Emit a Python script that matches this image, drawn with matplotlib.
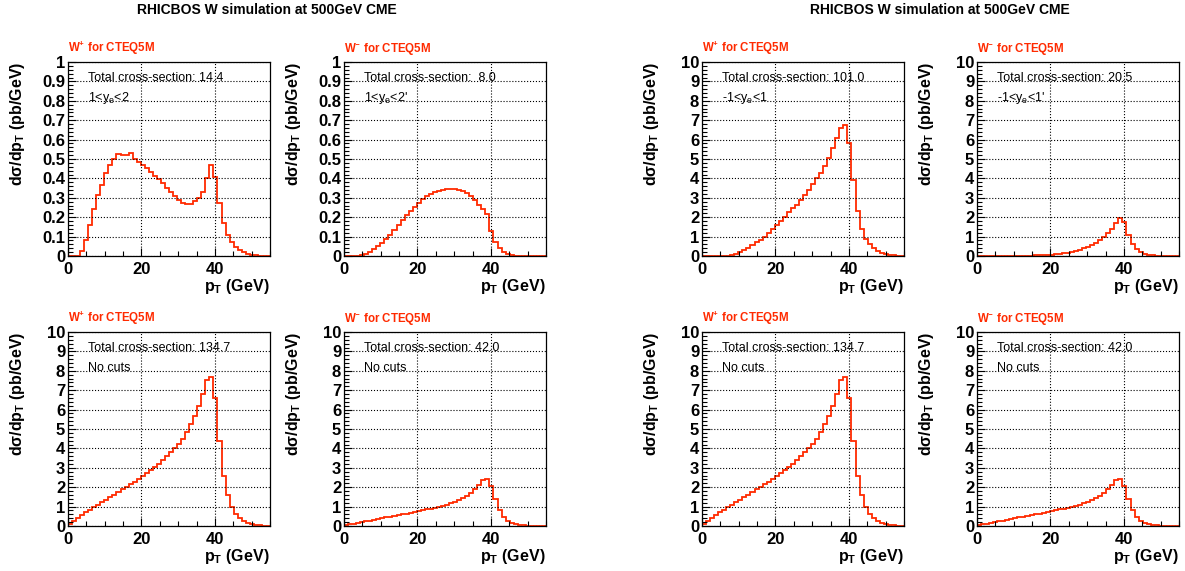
import numpy as np
import matplotlib
matplotlib.use("Agg")
import matplotlib.pyplot as plt
from matplotlib.ticker import MultipleLocator, FuncFormatter

plt.rcParams['font.family'] = ['Liberation Sans', 'DejaVu Sans']
plt.rcParams['mathtext.default'] = 'regular'

# 50 bins of 1.1 GeV between 0 and 55 GeV
edges = np.linspace(0, 55, 51)

# W+ , 1<y_e<2
wp_fwd = [0, 0, 0, 0.025, 0.08, 0.16, 0.24, 0.315, 0.365, 0.43,
          0.47, 0.50, 0.525, 0.52, 0.52, 0.53, 0.50, 0.485, 0.47, 0.455,
          0.435, 0.41, 0.395, 0.375, 0.35, 0.33, 0.31, 0.29, 0.275, 0.27,
          0.27, 0.285, 0.30, 0.33, 0.40, 0.47, 0.405, 0.275, 0.17, 0.11,
          0.07, 0.045, 0.03, 0.02, 0.012, 0.007, 0.003, 0.002, 0.001, 0]
# W- , 1<y_e<2
wm_fwd = [0, 0, 0, 0, 0.005, 0.012, 0.022, 0.035, 0.05, 0.068,
          0.09, 0.11, 0.135, 0.16, 0.185, 0.21, 0.23, 0.255, 0.275, 0.295,
          0.31, 0.32, 0.33, 0.335, 0.34, 0.345, 0.345, 0.345, 0.34, 0.335,
          0.325, 0.31, 0.29, 0.265, 0.24, 0.215, 0.13, 0.07, 0.04, 0.02,
          0.01, 0.005, 0.002, 0, 0, 0, 0, 0, 0, 0]
# W+ , -1<y_e<1
wp_mid = [0, 0, 0, 0, 0, 0, 0.01, 0.05, 0.12, 0.2,
          0.3, 0.42, 0.55, 0.7, 0.85, 1.0, 1.2, 1.4, 1.6, 1.8,
          2.0, 2.25, 2.45, 2.65, 2.9, 3.15, 3.4, 3.7, 4.0, 4.3,
          4.65, 5.05, 5.55, 6.1, 6.6, 6.75, 5.8, 3.9, 2.3, 1.4,
          0.9, 0.6, 0.4, 0.25, 0.15, 0.1, 0.05, 0.03, 0.01, 0]
# W- , -1<y_e<1
wm_mid = [0, 0, 0, 0, 0, 0, 0, 0, 0, 0,
          0, 0, 0.01, 0.02, 0.03, 0.04, 0.05, 0.06, 0.07, 0.085,
          0.1, 0.13, 0.17, 0.22, 0.27, 0.33, 0.4, 0.48, 0.57, 0.68,
          0.82, 0.98, 1.17, 1.4, 1.72, 1.95, 1.75, 1.1, 0.6, 0.35,
          0.2, 0.12, 0.07, 0.04, 0.02, 0.01, 0, 0, 0, 0]
# W+ , no cuts
wp_all = [0.1, 0.25, 0.4, 0.55, 0.7, 0.85, 1.0, 1.1, 1.25, 1.35,
          1.5, 1.6, 1.75, 1.9, 2.0, 2.15, 2.25, 2.4, 2.6, 2.75,
          2.9, 3.05, 3.2, 3.4, 3.6, 3.8, 4.0, 4.25, 4.5, 4.85,
          5.25, 5.65, 6.2, 6.8, 7.55, 7.7, 6.6, 4.4, 2.6, 1.6,
          1.0, 0.6, 0.4, 0.25, 0.17, 0.1, 0.07, 0.04, 0.02, 0.01]
# W- , no cuts
wm_all = [0.03, 0.08, 0.12, 0.16, 0.2, 0.24, 0.28, 0.32, 0.36, 0.4,
          0.44, 0.48, 0.52, 0.56, 0.6, 0.64, 0.68, 0.72, 0.77, 0.81,
          0.86, 0.9, 0.95, 1.0, 1.05, 1.1, 1.17, 1.25, 1.33, 1.42,
          1.55, 1.7, 1.9, 2.1, 2.35, 2.4, 2.05, 1.4, 0.8, 0.45,
          0.28, 0.16, 0.1, 0.06, 0.04, 0.02, 0.01, 0.005, 0, 0]

titles = ["W$^{+}$ for CTEQ5M", "W$^{-}$ for CTEQ5M"]
red = '#ff2a00'

W, H = 1185, 571
fig = plt.figure(figsize=(W / 100, H / 100), dpi=100)

# (left px, top px, data, ymax, xsec text, cut text, title)
panels = [
    (68, 62, wp_fwd, 1, "Total cross-section: 14.4", "1<y$_{e}$<2", titles[0]),
    (344, 62, wm_fwd, 1, "Total cross-section:  8.0", "1<y$_{e}$<2'", titles[1]),
    (68, 332, wp_all, 10, "Total cross-section: 134.7", "No cuts", titles[0]),
    (344, 332, wm_all, 10, "Total cross-section: 42.0", "No cuts", titles[1]),
    (702, 62, wp_mid, 10, "Total cross-section: 101.0", "-1<y$_{e}$<1", titles[0]),
    (977, 62, wm_mid, 10, "Total cross-section: 20.5", "-1<y$_{e}$<1'", titles[1]),
    (702, 332, wp_all, 10, "Total cross-section: 134.7", "No cuts", titles[0]),
    (977, 332, wm_all, 10, "Total cross-section: 42.0", "No cuts", titles[1]),
]
aw, ah = 202, 194

for (lx, ty, vals, ymax, xs, cut, ttl) in panels:
    ax = fig.add_axes([lx / W, 1 - (ty + ah) / H, aw / W, ah / H])
    ax.stairs(vals, edges, color=red, lw=1.3, baseline=None)
    ax.set_xlim(0, 55)
    ax.set_ylim(0, ymax)
    ax.xaxis.set_major_locator(MultipleLocator(20))
    ax.xaxis.set_minor_locator(MultipleLocator(5))
    ax.yaxis.set_major_locator(MultipleLocator(ymax / 10))
    ax.yaxis.set_minor_locator(MultipleLocator(ymax / 50))
    ax.yaxis.set_major_formatter(FuncFormatter(lambda v, p: "%g" % round(v, 3)))
    ax.tick_params(which='both', direction='in', top=False, right=False,
                   labelsize=12, width=0.8)
    ax.tick_params(which='major', length=6)
    ax.tick_params(which='minor', length=3.5)
    ax.tick_params(axis='x', pad=4)
    ax.tick_params(axis='y', pad=2)
    for lab in ax.get_xticklabels() + ax.get_yticklabels():
        lab.set_fontweight('bold')
    ax.grid(True, which='major', color='black', ls=':', lw=0.8)
    for s in ax.spines.values():
        s.set_linewidth(0.9)
    ax.text(0, 1.025, ttl, transform=ax.transAxes, color=red,
            fontsize=8.3, fontweight='bold', ha='left', va='bottom')
    ax.text(0.1, 0.915, xs, transform=ax.transAxes, fontsize=9, va='center')
    ax.text(0.1, 0.815, cut, transform=ax.transAxes, fontsize=9, va='center')
    ax.text(-0.25, 1.0, r"d$\sigma$/dp$_{T}$ (pb/GeV)", transform=ax.transAxes,
            rotation=90, ha='center', va='top', fontsize=11.5, fontweight='bold')
    ax.text(1.0, -0.11, "p$_{T}$ (GeV)", transform=ax.transAxes,
            ha='right', va='top', fontsize=11.5, fontweight='bold')

fig.text(267 / W, 1 - 10 / H, "RHICBOS W simulation at 500GeV CME",
         ha='center', va='center', fontsize=10, fontweight='bold')
fig.text(940 / W, 1 - 10 / H, "RHICBOS W simulation at 500GeV CME",
         ha='center', va='center', fontsize=10, fontweight='bold')

fig.savefig("out.png", dpi=100)
